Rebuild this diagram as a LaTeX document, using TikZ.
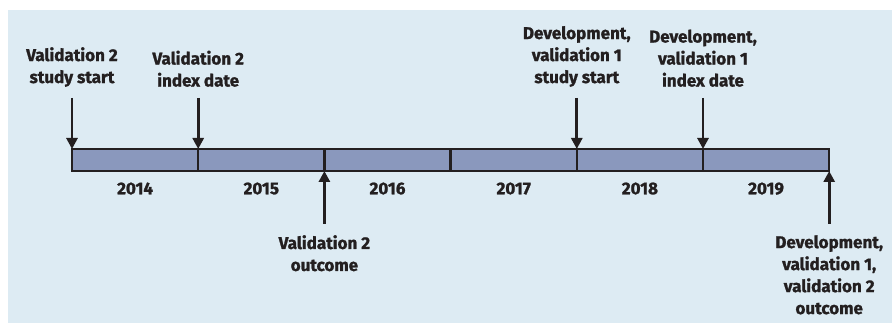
\documentclass[tikz,border=0pt]{standalone}
\usepackage{fontspec}
\setmainfont{Fira Sans}[BoldFeatures={FakeBold=1.3}]
\usetikzlibrary{arrows.meta,positioning,backgrounds}
\definecolor{bgblue}{HTML}{DDEBF3}
\definecolor{barblue}{HTML}{8A98BD}
\definecolor{inkdark}{HTML}{231F20}
\begin{document}
\begin{tikzpicture}[x=1pt,y=1pt,>={Triangle[width=11pt,length=11pt]},
    every node/.style={text=inkdark,font=\bfseries\fontsize{17}{22}\selectfont},
    yearbox/.style={draw=inkdark,line width=2.5pt,fill=barblue,minimum width=126.2pt,minimum height=22pt,inner sep=0pt,outer sep=0pt},
    event/.style={align=center,inner sep=2pt},
    evarrow/.style={->,draw=inkdark,line width=2.8pt,shorten <=9pt}]

                \useasboundingbox (0,0) rectangle (892,324);
                \fill[bgblue] (8,1) rectangle (892,314);

                \node[yearbox,anchor=west] (y2014) at (72,164) {};
                \node[yearbox,right=0pt of y2014] (y2015) {};
                \node[yearbox,right=0pt of y2015] (y2016) {};
                \node[yearbox,right=0pt of y2016] (y2017) {};
                \node[yearbox,right=0pt of y2017] (y2018) {};
                \node[yearbox,right=0pt of y2018] (y2019) {};

                \foreach \yr in {2014,...,2019}
                    \node[below=8pt of y\yr] (l\yr) {\yr};

                \node[event,above=60pt of y2014.north west] (vstart) {Validation 2\\study start} edge[evarrow] (y2014.north west);
                \node[event,above=60pt of y2015.north west] (vindex) {Validation 2\\index date} edge[evarrow] (y2015.north west);
                \node[event,above=60pt of y2018.north west] (dstart) {Development,\\validation 1\\study start} edge[evarrow] (y2018.north west);
                \node[event,above=60pt of y2019.north west] (dindex) {Development,\\validation 1\\index date} edge[evarrow] (y2019.north west);

                \node[event,below=62pt of y2016.south west] (voutc) {Validation 2\\outcome} edge[evarrow] (y2016.south west);
                \node[event,below=62pt of y2019.south east] (doutc) {Development,\\validation 1,\\validation 2\\outcome} edge[evarrow] (y2019.south east);

            \end{tikzpicture}
\end{document}
